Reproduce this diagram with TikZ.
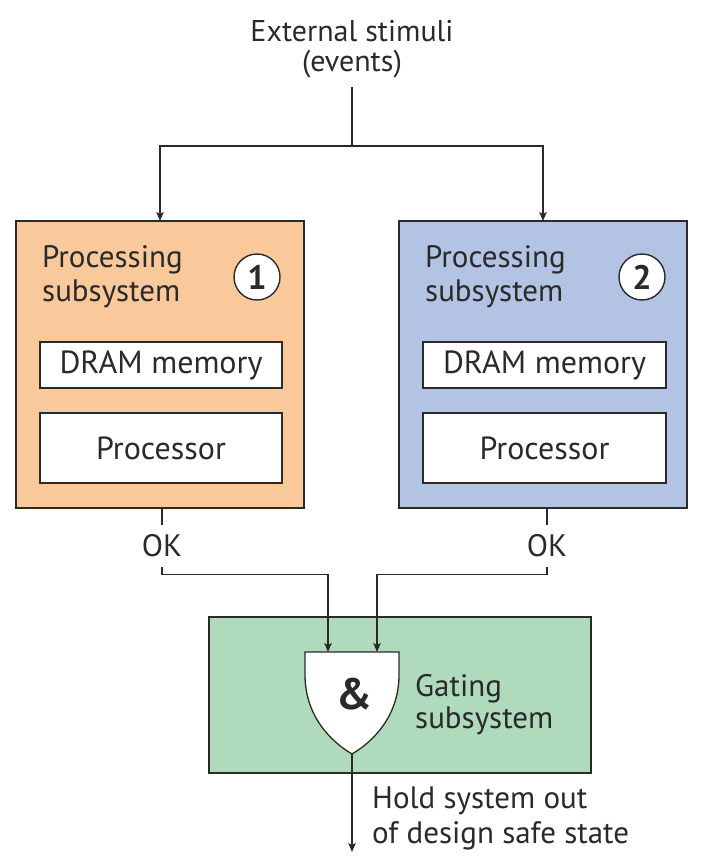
\documentclass[tikz,border=0pt]{standalone}
\usepackage{fontspec}
\setmainfont{PT Sans}
\usetikzlibrary{arrows.meta,calc,backgrounds}
\definecolor{ink}{HTML}{2A2A2A}
\definecolor{orangefill}{HTML}{F9C89B}
\definecolor{bluefill}{HTML}{B3C3E4}
\definecolor{greenfill}{HTML}{AFDABB}
\tikzset{
  lbl/.style={inner sep=0pt, text=ink, font=\fontsize{31}{34}\selectfont},
  bigbox/.style={draw=ink, line width=1.4pt, inner sep=0pt, outer sep=0pt},
  innerbox/.style={draw=ink, line width=1.3pt, fill=white, inner sep=0pt, outer sep=0pt, text=ink, font=\fontsize{32}{34}\selectfont},
  numcirc/.style={circle, draw=ink, line width=1.4pt, fill=white, minimum size=46pt, inner sep=0pt, text=ink, font=\fontsize{34}{36}\selectfont\bfseries},
  conn/.style={draw=ink, line width=1.3pt},
  arr/.style={conn, -{Stealth[length=9pt,width=7.5pt,inset=2pt]}},
}
\newcommand\softshadow[1]{%
  \foreach \k in {0,...,7}{%
    \fill[black,opacity=0.045] ($(#1.north west)+(5-\k,5-\k)$) rectangle ($(#1.south east)+(5+\k,5+\k)$);}}
\begin{document}
\begin{tikzpicture}[x=1pt,y=-1pt]
\useasboundingbox[fill=white] (0,0) rectangle (703,856);

% big boxes
\node[bigbox, fill=orangefill, minimum width=288pt, minimum height=287pt] (p1) at (160,364.5) {};
\node[bigbox, fill=bluefill, minimum width=288pt, minimum height=287pt] (p2) at (543,364.5) {};
\node[bigbox, fill=greenfill, minimum width=382pt, minimum height=156pt] (g) at (400,695) {};

\begin{scope}[on background layer]
  \softshadow{p1}
  \softshadow{p2}
  \softshadow{g}
\end{scope}

% top label
\node[lbl, align=center, anchor=north, font=\fontsize{30}{30.5}\selectfont] (stim) at (352,20) {External stimuli\\(events)};
\coordinate (stimend) at (352,87);
\coordinate (split) at (352,146);

% subsystem 1
\node[lbl, align=left, anchor=north west] (t1) at (42,245) {Processing\\subsystem};
\node[numcirc] (c1) at (257,277) {1};
\node[innerbox, minimum width=242pt, minimum height=46pt] (d1) at (161,365) {DRAM memory};
\node[innerbox, minimum width=242pt, minimum height=70pt] (r1) at (161,448) {Processor};

% subsystem 2
\node[lbl, align=left, anchor=north west] (t2) at (425,245) {Processing\\subsystem};
\node[numcirc] (c2) at (642,277) {2};
\node[innerbox, minimum width=243pt, minimum height=46pt] (d2) at (544.5,365) {DRAM memory};
\node[innerbox, minimum width=243pt, minimum height=70pt] (r2) at (544.5,448) {Processor};

% OK labels
\node[lbl, inner xsep=0pt, inner ysep=10pt] (ok1) at (162,546) {OK};
\node[lbl, inner xsep=0pt, inner ysep=10pt] (ok2) at (547,546) {OK};

% gate
\coordinate (in1) at (328,652);
\coordinate (in2) at (377,652);
\coordinate (gout) at (352,754);
\coordinate (outend) at (352,852);
\draw[draw=ink, line width=1.3pt, fill=white] (305,652) -- (399,652) -- (399,677)
  .. controls (398,716) and (374,741) .. (gout)
  .. controls (330,741) and (306,716) .. (305,677) -- cycle;
\node[text=ink, inner sep=0pt, font=\fontsize{44}{46}\selectfont\bfseries] (amp) at (354,694) {\&};
\node[lbl, align=left, anchor=north west, font=\fontsize{31}{32}\selectfont] (gt) at (415,674) {Gating\\subsystem};
\node[lbl, align=left, anchor=north west, font=\fontsize{31}{35}\selectfont] (hold) at (372,787) {Hold system out\\of design safe state};

% connectors
\draw[conn] (stimend) -- (split);
\draw[arr] (split) -| (p1.north);
\draw[arr] (split) -| (p2.north);
\draw[conn] (p1.south -| ok1) -- (ok1.north);
\draw[conn] (p2.south -| ok2) -- (ok2.north);
\draw[arr] (ok1.south) -- ++(0,7) -| (in1);
\draw[arr] (ok2.south) -- ++(0,7) -| (in2);
\draw[arr] (gout) -- (outend);
\end{tikzpicture}
\end{document}
